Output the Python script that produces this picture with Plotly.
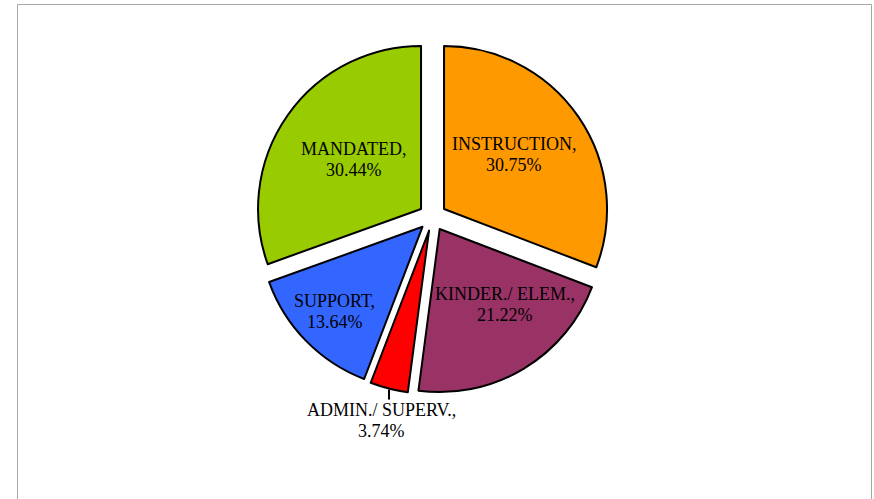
import math
import plotly.graph_objects as go

categories = ["INSTRUCTION", "KINDER./ ELEM.", "ADMIN./ SUPERV.", "SUPPORT", "MANDATED"]
values = [30.75, 21.22, 3.74, 13.64, 30.44]
colors = ["#FF9900", "#993366", "#FF0000", "#3366FF", "#99CC00"]

# label placement style (fraction of radius from slice centre, angle nudge in degrees)
label_outside = [False, False, True, False, False]
label_radius = [0.545, 0.613, 1.0, 0.747, 0.512]
label_nudge = [-3.5, -9.9, 0.0, 0.4, 1.4]

W, H = 874, 499
cx, cy = 432.5, 217          # pie centre in page pixels
half = 177                   # half the domain size
pull = 0.086
FONT = "Liberation Serif"
FS = 18
LINE_GAP = 20.6

fig = go.Figure(go.Pie(
    labels=categories,
    values=values,
    textinfo="none",
    sort=False,
    direction="clockwise",
    rotation=0,
    pull=[pull] * len(values),
    marker=dict(colors=colors, line=dict(color="#000000", width=2)),
    hoverinfo="label+percent",
    domain=dict(x=[(cx - half) / W, (cx + half) / W],
                y=[(H - cy - half) / H, (H - cy + half) / H]),
))

r_px = half / (1 + pull)
pull_px = half - r_px
total = sum(values)

shapes = [dict(type="rect", xref="paper", yref="paper",
               x0=17.5 / W, x1=871.5 / W, y0=-0.01, y1=(H - 4.5) / H,
               line=dict(color="#A6A6A6", width=1), fillcolor="rgba(0,0,0,0)")]
annotations = []


def px_x(x):
    return x / W


def px_y(y):
    return 1 - y / H


def add_line_text(x, y, txt):
    annotations.append(dict(xref="paper", yref="paper", x=px_x(x), y=px_y(y),
                            text=txt, showarrow=False, xanchor="center", yanchor="middle",
                            font=dict(family=FONT, size=FS, color="#000000")))


cum = 0.0
for cat, v, out, rf, nd in zip(categories, values, label_outside, label_radius, label_nudge):
    mid = (cum + v / 2) / total * 2 * math.pi
    cum += v
    line1 = f"{cat},"
    line2 = f"{v:.2f}%"
    if out:
        ex = cx + half * math.sin(mid)
        ey = cy - half * math.cos(mid)
        shapes.append(dict(type="line", xref="paper", yref="paper",
                           x0=px_x(ex), x1=px_x(ex), y0=px_y(ey + 1), y1=px_y(ey + 11),
                           line=dict(color="#000000", width=2)))
        tx = ex - 7
        ty = ey + 21.5 + LINE_GAP / 2
    else:
        scx = cx + pull_px * math.sin(mid)
        scy = cy - pull_px * math.cos(mid)
        a = mid + math.radians(nd)
        tx = scx + rf * r_px * math.sin(a)
        ty = scy - rf * r_px * math.cos(a)
    add_line_text(tx, ty - LINE_GAP / 2, line1)
    add_line_text(tx, ty + LINE_GAP / 2, line2)

fig.update_layout(
    width=W, height=H,
    margin=dict(l=0, r=0, t=0, b=0),
    showlegend=False,
    paper_bgcolor="#FFFFFF",
    plot_bgcolor="#FFFFFF",
    shapes=shapes,
    annotations=annotations,
)

fig.write_html("out.html", config={"displayModeBar": False},
               post_script="document.body.style.margin='0';")
